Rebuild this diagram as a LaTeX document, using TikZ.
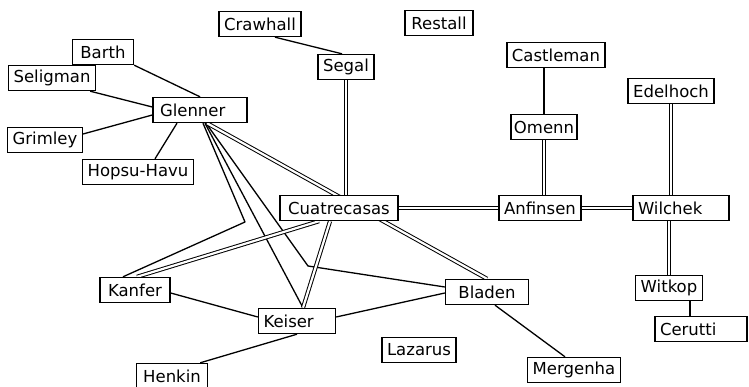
\documentclass[tikz,border=0pt]{standalone}
\usepackage{fontspec}
\newfontfamily\plotfont{DejaVu Sans}
\usetikzlibrary{calc,backgrounds}

\begin{document}
\begin{tikzpicture}[x=1pt,y=-1pt,
  box/.style={draw,fill=white,line width=1.4pt,minimum height=25pt,inner xsep=5pt,inner ysep=2pt,font=\plotfont\fontsize{16.5}{18}\selectfont},
  leftbox/.style={box,text width=#1,align=left},
  link/.style={line width=1.3pt,line join=round},
  dlink/.style={double,line width=1pt,double distance=2.2pt}]
  \useasboundingbox (0,0) rectangle (749,387);
  \node[box] (crawhall) at (260,24) {Crawhall};
  \node[box,minimum width=68pt] (restall) at (439,23) {Restall};
  \node[box,minimum width=61pt] (barth) at (103,52) {Barth};
  \node[box] (seligman) at (52,78) {Seligman};
  \node[box] (segal) at (346,67) {Segal};
  \node[box] (castleman) at (556,55) {Castleman};
  \node[box] (edelhoch) at (671,91) {Edelhoch};
  \node[leftbox=84pt] (glenner) at (200,110) {\hspace*{2pt}Glenner};
  \node[box,inner xsep=3pt] (omenn) at (544,127) {Omenn};
  \node[box] (grimley) at (45,140) {Grimley};
  \node[box] (hopsu) at (138,172) {Hopsu-Havu};
  \node[box,minimum width=118pt] (cuatre) at (339,208) {Cuatrecasas};
  \node[box] (anfinsen) at (540,208) {Anfinsen};
  \node[leftbox=86pt] (wilchek) at (681,208) {Wilchek};
  \node[box,minimum width=70pt] (kanfer) at (135,290) {Kanfer};
  \node[leftbox=67pt] (keiser) at (297,321) {Keiser};
  \node[box,minimum width=83pt] (bladen) at (487,292) {Bladen};
  \node[box] (witkop) at (669,288) {Witkop};
  \node[leftbox=82pt] (cerutti) at (701,329) {Cerutti};
  \node[box] (lazarus) at (419,350) {Lazarus};
  \node[box,minimum width=71pt] (henkin) at (172,376) {Henkin};
  \node[box] (mergenha) at (574,370) {Mergenha};
  \coordinate (bendK) at (245,222);
  \coordinate (bendB) at (308,266);
  \begin{scope}[on background layer]
    \draw[link] (barth.south east) -- (glenner.north);
    \draw[link] ([xshift=-6pt]seligman.south east) -- ([yshift=3pt]glenner.west);
    \draw[link] ([yshift=6pt]grimley.east) -- ([yshift=-5pt]glenner.west);
    \draw[link] ([xshift=17pt]hopsu.north) -- ([xshift=-23pt]glenner.south);
    \draw[link] ([xshift=15pt]crawhall.south) -- ([xshift=-4pt]segal.north);
    \draw[link] (omenn.north) -- (omenn.north |- castleman.south);
    \draw[link] ([xshift=21pt]witkop.south) -- ([xshift=21pt]witkop.south |- cerutti.north);
    \draw[link] ([yshift=-3pt]kanfer.east) -- ([yshift=4pt]keiser.west);
    \draw[link] (keiser.south) -- ([xshift=-8pt]henkin.north east);
    \draw[link] ([yshift=4pt]keiser.east) -- ([yshift=-1pt]bladen.west);
    \draw[link] ([xshift=8pt]bladen.south) -- ([xshift=-9pt]mergenha.north);
    \draw[link] ([xshift=3pt]glenner.south) -- (bendK) -- ([xshift=-12pt]kanfer.north);
    \draw[link] ([xshift=5pt]glenner.south) -- ([xshift=6pt]keiser.north);
    \draw[link] ([xshift=6pt]glenner.south) -- (bendB) -- ([yshift=5pt]bladen.west);
    \draw[dlink] ([xshift=7pt]glenner.south) -- (bladen.north);
    \draw[dlink] (segal.south) -- (segal.south |- cuatre.north);
    \draw[dlink] (cuatre.east) -- (anfinsen.west);
    \draw[dlink] (anfinsen.east) -- (wilchek.west);
    \draw[dlink] (omenn.south) -- (omenn.south |- anfinsen.north);
    \draw[dlink] (edelhoch.south) -- (edelhoch.south |- wilchek.north);
    \draw[dlink] (witkop.north) -- (witkop.north |- wilchek.south);
    \draw[dlink] ([xshift=-20pt]cuatre.south) -- ([xshift=2pt]kanfer.north);
    \draw[dlink] ([xshift=-9pt]cuatre.south) -- ([xshift=6pt]keiser.north);
  \end{scope}
\end{tikzpicture}
\end{document}
